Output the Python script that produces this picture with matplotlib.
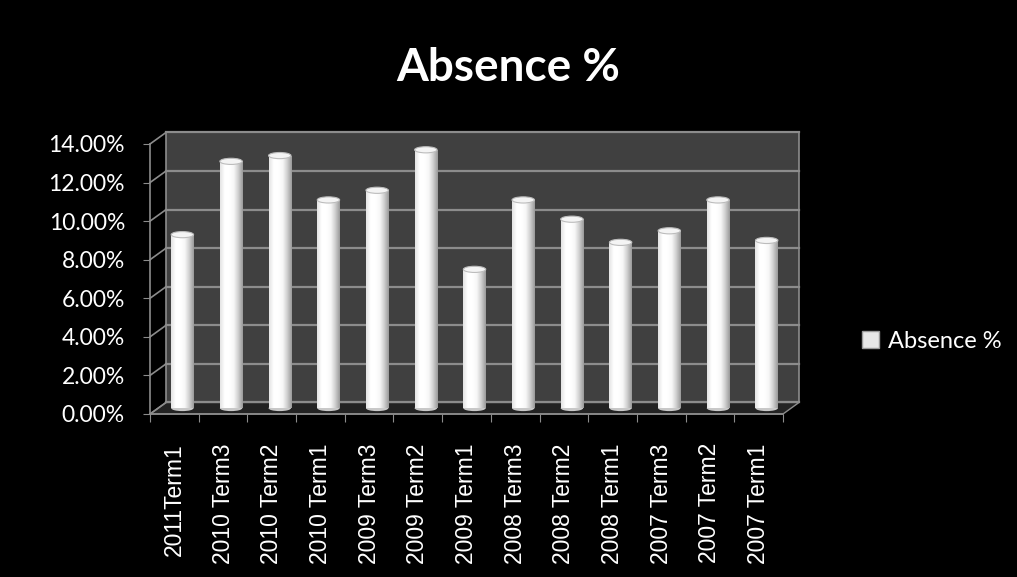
import numpy as np
import matplotlib
matplotlib.use('Agg')
import matplotlib.pyplot as plt
from matplotlib.patches import Rectangle, Polygon, Ellipse, Patch
from matplotlib.colors import LinearSegmentedColormap

categories = ['2011Term1', '2010 Term3', '2010 Term2', '2010 Term1', '2009 Term3',
              '2009 Term2', '2009 Term1', '2008 Term3', '2008 Term2', '2008 Term1',
              '2007 Term3', '2007 Term2', '2007 Term1']
values = [9.0, 12.8, 13.1, 10.8, 11.3, 13.4, 7.2, 10.8, 9.8, 8.6, 9.2, 10.8, 8.7]
y_ticks = [0, 2, 4, 6, 8, 10, 12, 14]
y_tick_labels = ['0.00%', '2.00%', '4.00%', '6.00%', '8.00%', '10.00%', '12.00%', '14.00%']
series_name = 'Absence %'
title = 'Absence %'

W, H = 1017, 577
fig = plt.figure(figsize=(W / 100, H / 100), dpi=100, facecolor='black')
ax = fig.add_axes([150 / W, 163 / H, 633 / W, 270 / H])
ax.set_facecolor('none')
n = len(categories)
ax.set_xlim(-0.5, n - 0.5)
ax.set_ylim(0, 14)

DX, DY = 0.33, 0.6
grid_c = '#8c8c8c'

# back wall
ax.add_patch(Rectangle((-0.5 + DX, DY), n, 14, facecolor='#404040', edgecolor=grid_c,
                       lw=1.2, clip_on=False, zorder=0))
# floor
ax.add_patch(Polygon([(-0.5, 0), (n - 0.5, 0), (n - 0.5 + DX, DY), (-0.5 + DX, DY)],
                     closed=True, facecolor='#232323', edgecolor=grid_c, lw=1.0,
                     clip_on=False, zorder=0.5))
# gridlines on back wall and side wall
for v in y_ticks:
    ax.plot([-0.5 + DX, n - 0.5 + DX], [v + DY, v + DY], color=grid_c, lw=1.6,
            clip_on=False, zorder=0.6)
    ax.plot([-0.5, -0.5 + DX], [v, v + DY], color=grid_c, lw=1.2, clip_on=False, zorder=0.6)

# bars
xs = np.arange(n) + DX / 2
bw = 0.46
bars = ax.bar(xs, values, width=bw, bottom=DY / 2, color='white', zorder=3, clip_on=False)
cmap = LinearSegmentedColormap.from_list('cyl', ['#e4e4e4', '#ffffff', '#ffffff', '#f8f8f8',
                                                 '#d0d0d0', '#9a9a9a'])
grad = np.linspace(0, 1, 64).reshape(1, -1)
for rect, x, v in zip(bars, xs, values):
    x0 = rect.get_x()
    im = ax.imshow(grad, cmap=cmap, aspect='auto', interpolation='bilinear',
                   extent=(x0, x0 + bw, DY / 2, v + DY / 2), zorder=3.1)
    im.set_clip_path(rect)
    ax.add_patch(Ellipse((x, DY / 2), bw, 0.3, facecolor='#c8c8c8', edgecolor='none',
                         zorder=2.9, clip_on=False))
    ax.add_patch(Ellipse((x, v + DY / 2), bw, 0.32, facecolor='#f4f4f4', edgecolor='#bcbcbc',
                         lw=0.8, zorder=3.3, clip_on=False))

ax.set_xlim(-0.5, n - 0.5)
ax.set_ylim(0, 14)

for s in ['top', 'right']:
    ax.spines[s].set_visible(False)
for s in ['left', 'bottom']:
    ax.spines[s].set_color(grid_c)
    ax.spines[s].set_linewidth(1.2)

ax.set_yticks(y_ticks)
ax.set_yticklabels(y_tick_labels, fontsize=16.5, color='white', family=['Lato', 'DejaVu Sans'])
ax.tick_params(axis='y', length=5, color=grid_c, pad=13)

ax.set_xticks(np.arange(-0.5, n, 1.0))
ax.set_xticklabels([])
ax.set_xticks(np.arange(n), minor=True)
ax.set_xticklabels(categories, minor=True, rotation=90, fontsize=16.5, color='white',
                   family=['Liberation Sans', 'DejaVu Sans'], va='top', ha='center')
ax.tick_params(axis='x', which='major', length=6, color=grid_c)
ax.tick_params(axis='x', which='minor', length=0, pad=21)

fig.text(0.5, 1 - 68 / H, title, ha='center', va='center', fontsize=33, fontweight='bold',
         color='white', family=['Lato', 'DejaVu Sans'])

ax.legend(handles=[Patch(facecolor='#e8e8e8', edgecolor='#9a9a9a')], labels=[series_name],
          loc='center left', bbox_to_anchor=(862 / W, 1 - 341 / H), bbox_transform=fig.transFigure,
          frameon=False, labelcolor='white', prop={'family': ['Lato', 'DejaVu Sans'], 'size': 17},
          handlelength=0.7, handleheight=0.7, handletextpad=0.4, borderpad=0, borderaxespad=0)

fig.savefig('out.png', dpi=100, facecolor='black')
